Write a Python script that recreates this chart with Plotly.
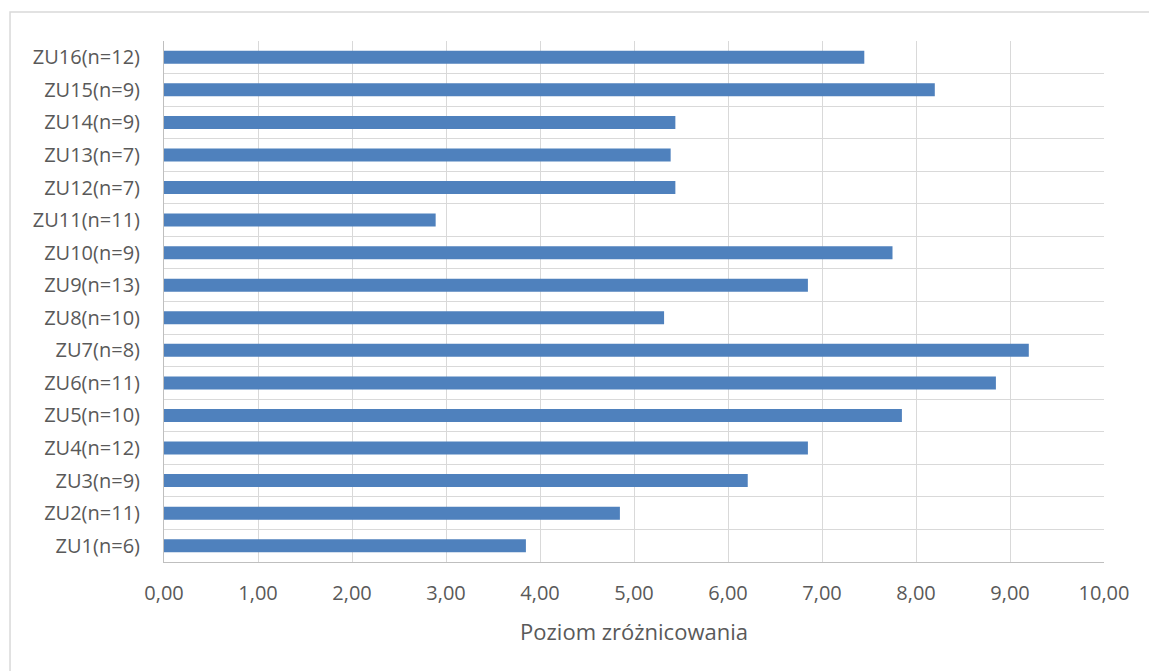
import plotly.graph_objects as go

# Group labels (bottom to top) and their diversity level
labels = [
    "ZU1(n=6)", "ZU2(n=11)", "ZU3(n=9)", "ZU4(n=12)", "ZU5(n=10)",
    "ZU6(n=11)", "ZU7(n=8)", "ZU8(n=10)", "ZU9(n=13)", "ZU10(n=9)",
    "ZU11(n=11)", "ZU12(n=7)", "ZU13(n=7)", "ZU14(n=9)", "ZU15(n=9)",
    "ZU16(n=12)",
]
values = [3.85, 4.85, 6.21, 6.85, 7.85, 8.85, 9.20, 5.32, 6.85, 7.75,
          2.89, 5.44, 5.39, 5.44, 8.20, 7.45]

x_ticks = [i for i in range(0, 11)]
x_tick_text = [f"{v:.2f}".replace(".", ",") for v in x_ticks]
x_title = "Poziom zróżnicowania"

positions = list(range(len(labels)))
boundaries = [p - 0.5 for p in positions] + [positions[-1] + 0.5]

FONT = "'Open Sans', sans-serif"
TEXT = "#595959"
GRID = "#d9d9d9"

fig = go.Figure(
    go.Bar(
        x=values,
        y=positions,
        orientation="h",
        width=0.4,
        marker=dict(color="#4f81bd", line=dict(width=0)),
        hovertext=labels,
    )
)

fig.update_layout(
    width=1149,
    height=671,
    margin=dict(l=164, r=45, t=41, b=109),
    paper_bgcolor="white",
    plot_bgcolor="white",
    showlegend=False,
    font=dict(family=FONT, color=TEXT, size=20),
    shapes=[
        dict(
            type="rect", xref="paper", yref="paper",
            x0=-0.1638, x1=1.08, y0=-0.25, y1=1.0557,
            line=dict(color=GRID, width=1.5), fillcolor="rgba(0,0,0,0)",
            layer="below",
        )
    ],
)

fig.update_xaxes(
    range=[0, 10],
    tickmode="array",
    tickvals=x_ticks,
    ticktext=x_tick_text,
    showgrid=True,
    gridcolor=GRID,
    gridwidth=1,
    zeroline=False,
    showline=True,
    linecolor="#bfbfbf",
    linewidth=1,
    ticks="",
    ticklabelstandoff=13,
    tickfont=dict(size=20, color=TEXT),
    title=dict(text=x_title, font=dict(size=22, color=TEXT), standoff=19),
)

fig.update_yaxes(
    range=[-0.5, len(labels) - 0.5],
    tickmode="array",
    tickvals=positions,
    ticktext=labels,
    showgrid=False,
    zeroline=False,
    showline=True,
    linecolor="#bfbfbf",
    linewidth=1,
    ticks="",
    ticklabelstandoff=19,
    tickfont=dict(size=20, color=TEXT),
    minor=dict(
        tickmode="array",
        tickvals=boundaries,
        showgrid=True,
        gridcolor=GRID,
        gridwidth=1,
        ticks="",
    ),
)

fig.write_html("out.html")
